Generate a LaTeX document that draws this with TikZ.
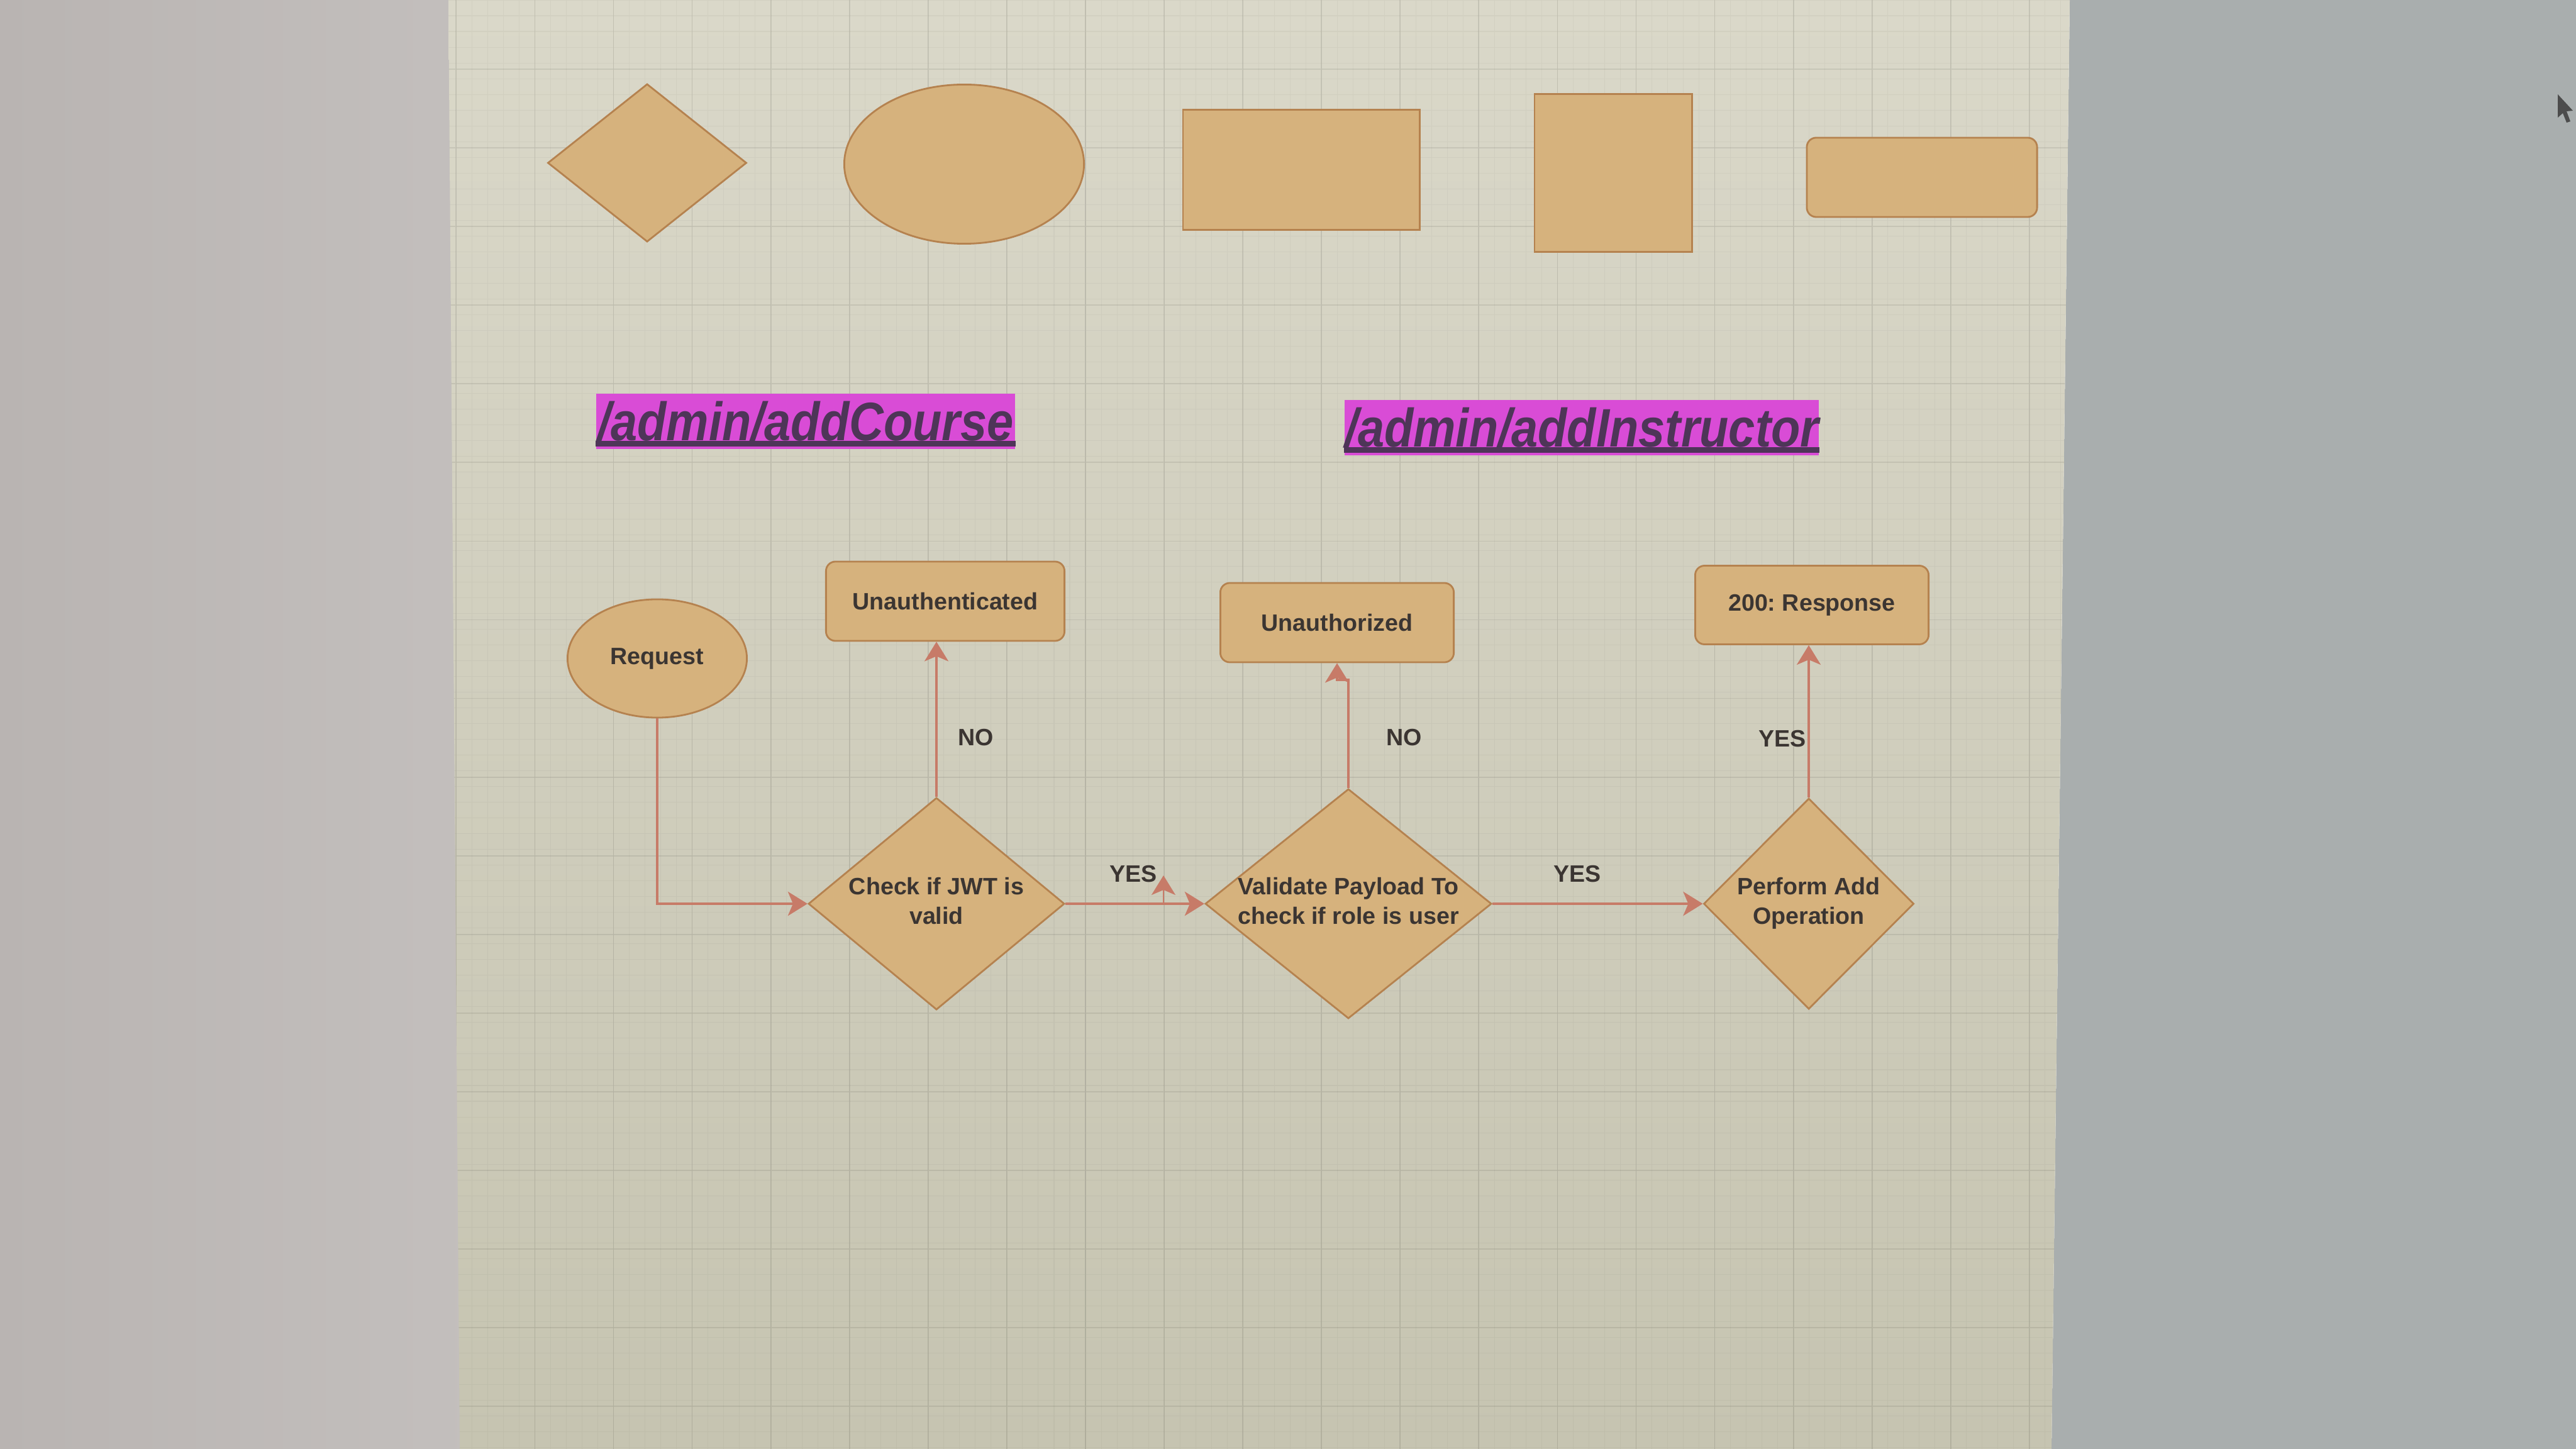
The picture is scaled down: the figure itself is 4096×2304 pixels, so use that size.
\documentclass[tikz,border=0pt]{standalone}
\usepackage{fontspec}
\setmainfont{Liberation Sans}
\newfontfamily\routefont[FakeStretch=0.88]{Liberation Sans}
\usetikzlibrary{shapes.geometric,arrows.meta,positioning}
\frenchspacing

\definecolor{deskleft}{HTML}{B9B4B2}
\definecolor{deskmid}{HTML}{C3BFBD}
\definecolor{deskright}{HTML}{A9AEAE}
\definecolor{canvastop}{HTML}{DAD8C9}
\definecolor{canvasbot}{HTML}{C6C4B1}
\definecolor{shapetan}{HTML}{D6B27D}
\definecolor{shapeedge}{HTML}{B5824F}
\definecolor{flowred}{HTML}{C77B68}
\definecolor{inkgray}{HTML}{3B3532}
\definecolor{routepink}{HTML}{D94CD6}
\definecolor{routeink}{HTML}{4E3558}

% decision text may overhang the diamond, as in the drawing tool
\newcommand{\decisiontext}[1]{\makebox[0pt]{\begin{tabular}{@{}c@{}}#1\end{tabular}}}

\begin{document}
\begin{tikzpicture}[x=0.01cm,y=-0.01cm,
		tan/.style={fill=shapetan, draw=shapeedge, line width=0.8pt},
		nodetext/.style={text=inkgray, font=\bfseries\fontsize{10.7}{13.4}\selectfont},
		decision/.style={diamond, tan, nodetext, inner sep=0pt},
		answer/.style={rectangle, rounded corners=0.15cm, tan, nodetext},
		reqoval/.style={ellipse, tan, nodetext, inner sep=0pt},
		yesno/.style={nodetext, fill=none, draw=none, inner sep=0pt},
		route/.style={fill=routepink, text=routeink, inner sep=0pt,
			font=\routefont\bfseries\itshape\fontsize{24.5}{28}\selectfont},
		flow/.style={draw=flowred, line width=1pt,
			-{Stealth[length=0.31cm,width=0.38cm,inset=0.08cm]}}]
	\useasboundingbox (0,0) rectangle (4096,2304);
	% desk and screen
	\shade[left color=deskleft, right color=deskmid] (0,0) rectangle (760,2304);
	\fill[deskright] (3291,0) -- (4096,0) -- (4096,2304) -- (3262,2304) -- cycle;
	\shade[top color=canvastop, bottom color=canvasbot]
		(713,0) -- (3291,0) -- (3262,2304) -- (731,2304) -- cycle;
	\begin{scope}
		\clip (713,0) -- (3291,0) -- (3262,2304) -- (731,2304) -- cycle;
		\draw[black, opacity=0.035, line width=0.3pt, step=0.25cm] (0,0) grid (4096,2304);
		\draw[black, opacity=0.08, line width=0.5pt, shift={(100,110)}, step=1.25cm] (-200,-200) grid (4096,2304);
	\end{scope}
	% shape palette
	\node[diamond, tan, inner sep=0pt, minimum width=3.16cm, minimum height=2.51cm] (palDiamond) at (1029,259) {};
	\node[ellipse, tan, inner sep=0pt, minimum width=3.81cm, minimum height=2.53cm] (palOval) at (1533,261) {};
	\node[rectangle, tan, inner sep=0pt, minimum width=3.76cm, minimum height=1.91cm] (palRect) at (2069,270) {};
	\node[rectangle, tan, inner sep=0pt, minimum width=2.50cm, minimum height=2.51cm] (palSquare) at (2565,275) {};
	\node[rectangle, rounded corners=0.15cm, tan, inner sep=0pt, minimum width=3.66cm, minimum height=1.26cm] (palRound) at (3056,282) {};
	% routes
	\node[route, minimum width=6.66cm, minimum height=0.88cm] (routeCourse) at (1281,670) {/admin/addCourse};
	\fill[routeink] ([yshift=0.05cm]routeCourse.south west) rectangle ([yshift=0.14cm]routeCourse.south east);
	\node[route, minimum width=7.42cm, minimum height=0.88cm] (routeInstructor) at (2515,680) {/admin/addInstructor};
	\fill[routeink] ([yshift=0.05cm]routeInstructor.south west) rectangle ([yshift=0.14cm]routeInstructor.south east);
	% flow
	\node[reqoval, minimum width=2.85cm, minimum height=1.88cm] (req) at (1045,1047) {Request};
	\node[decision, minimum width=4.07cm, minimum height=3.37cm] (jwt) at (1489,1437) {\decisiontext{Check if JWT is\\valid}};
	\node[answer, minimum width=3.79cm, minimum height=1.26cm] (unauthn) at (1503,956) {Unauthenticated};
	\node[decision, minimum width=4.55cm, minimum height=3.65cm] (role) at (2144,1437) {\decisiontext{Validate Payload To\\check if role is user}};
	\node[answer, minimum width=3.71cm, minimum height=1.26cm] (unauthz) at (2126,990) {Unauthorized};
	\node[decision, minimum width=3.34cm, minimum height=3.35cm] (perform) at (2876,1437) {\decisiontext{Perform Add\\Operation}};
	\node[answer, minimum width=3.71cm, minimum height=1.25cm] (resp) at (2881,962) {200: Response};
	\node[yesno] (noJwt) at (1552,1173) {NO};
	\node[yesno] (yesJwt) at (1802,1390) {YES};
	\node[yesno] (noRole) at (2233,1173) {NO};
	\node[yesno] (yesRole) at (2508,1390) {YES};
	\node[yesno] (yesDone) at (2834,1175) {YES};
	\coordinate (stub) at (1850,1435);
	\coordinate (jog) at (2126,1081);
	\draw[flow, line width=1.4pt] (req.south) |- (jwt.west);
	\draw[flow] (jwt.north) -- (jwt.north |- unauthn.south);
	\draw[flow, line width=1.4pt] (jwt.east) -- (role.west);
	\draw[flow, line width=0.8pt] (stub) -- ++(0,-43);
	\draw[flow] (role.north) |- (jog) -- (unauthz.south);
	\draw[flow, line width=1.4pt] (role.east) -- (perform.west);
	\draw[flow] (perform.north) -- (perform.north |- resp.south);
	% pointer
	\fill[black!70] (4067,150) -- (4091,176) -- (4081,177) -- (4087,193) -- (4081,195) -- (4075,180) -- (4067,187) -- cycle;
\end{tikzpicture}
\end{document}
